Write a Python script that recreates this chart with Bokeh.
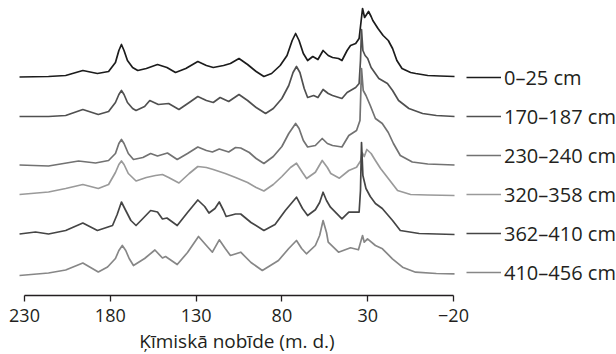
from bokeh.plotting import figure
from bokeh.models import Range1d, FixedTicker, Legend, LegendItem, ColumnDataSource
from bokeh.transform import dodge
from bokeh.embed import file_html
from bokeh.resources import INLINE

# ---- data (chemical shift in ppm, relative intensity) ----
labels = ["0–25 cm", "170–187 cm", "230–240 cm", "320–358 cm", "362–410 cm", "410–456 cm"]

ppm_1 = [232.9, 216, 206, 196, 187.5, 181, 177, 175, 173.5, 172, 170, 167, 164, 159, 152.5, 147, 142, 136,
         129, 124, 120, 114, 110, 105, 100, 95, 90.5, 86, 81, 77, 74, 72, 70, 67.5, 65, 62, 59, 56, 53, 50.5,
         47, 45, 42, 40, 37, 35, 33.8, 33, 31.8, 29.5, 28, 27, 24, 21, 18, 15.5, 13, 10, 5, 2, -5, -12, -20.6]
int_1 = [0, 0.5, 1.5, 6.5, 3.5, 5.5, 14.5, 26.5, 32.5, 26.5, 16.5, 9.5, 6.5, 8.5, 12.5, 9.5, 4.5, 8.5,
         15.5, 11.5, 9.5, 11.5, 13.5, 18.5, 12.5, 5.5, 0.5, 3.5, 11.5, 21.5, 36.5, 43.5, 36.5, 23.5, 16.5, 20.5, 17.5, 26.5, 21.5, 19.5,
         18.5, 16.5, 26.5, 31.5, 33.5, 38.5, 56.5, 68.5, 59.5, 65.5, 60.5, 56.5, 48.5, 41.5, 36.5, 28.5, 16.5, 8.5, 4.5, 3.5, 1.5, 1, 0.5]

ppm_2 = [232.9, 216, 206, 196, 187, 181, 177, 175, 173.5, 172, 170, 167, 165, 160, 157, 152, 146, 140,
         134, 129, 124, 120, 116, 111, 105, 100, 95, 89.5, 85, 80, 76, 73.5, 71.5, 69.5, 67, 65, 61.5, 59, 56, 53,
         50.5, 45, 42, 37, 35, 34.2, 33.6, 32.8, 31.5, 30, 28, 23.5, 18.5, 15.5, 12, 6, -2, -10, -20.6]
int_2 = [0, 0, 1, 7, 2, 5, 14, 22, 26, 22, 14, 8, 6, 10, 16, 12, 13, 7,
         14, 20, 16, 14, 19, 15, 22, 16, 9, 3, 8, 18, 31, 44, 50, 44, 28, 19, 21, 19, 27, 23,
         21, 18, 24, 29, 33, 56, 87, 66, 61, 58, 49, 38, 33, 26, 16, 8, 3, 1, 0]

ppm_3 = [232.9, 216, 198.5, 188.6, 181, 177, 175, 173.5, 172, 169.5, 166.5, 161, 156.5, 152.5, 146.7, 141,
         135, 129, 124, 120.5, 116.5, 111, 107, 104, 99, 95, 90.5, 85, 80, 76, 72, 70, 67.5, 65, 60.5, 56.5,
         53.5, 50.5, 45, 41, 36.5, 34.5, 33.6, 32.6, 31, 28.5, 25.5, 21.5, 18, 15, 11, 4, -5, -20.6]
int_3 = [0, -1, 4, 2, 4.5, 11.5, 21.5, 25.5, 21.5, 11.5, 5.5, 7.5, 11.5, 9, 12, 5.5,
         11.5, 18, 14.5, 13, 16, 13, 17.5, 17, 12.5, 6.5, 1.5, 8.5, 18.5, 31.5, 41.5, 36.5, 24.5, 18, 19.5, 26.5,
         21.5, 19.5, 18, 29.5, 34.5, 44.5, 96.5, 74.5, 69.5, 59.5, 46.5, 41.5, 32.5, 21.5, 9.5, 3, 1, 0]

ppm_4 = [232.9, 216, 206, 196, 187, 181, 177, 175, 173.5, 172, 169.5, 165, 159, 153.7, 149.6, 146, 140,
         134, 129, 124, 120, 113, 107, 100, 95, 90.5, 85, 80, 75, 71.5, 68, 65.6, 60.5, 56.5, 53.5, 51.5,
         46.5, 41, 36.5, 34, 33.3, 32, 30.5, 28, 25.5, 22.5, 18, 12.6, 5, -5, -20.6]
int_4 = [0.5, 3, 6.5, 10.5, 6.5, 10.5, 22.5, 30.5, 34, 30.5, 21.5, 14, 17.5, 19.5, 20.5, 17.5, 12,
         21.5, 28.5, 27.5, 25.5, 21.5, 17.5, 12.5, 7.5, 4, 10.5, 18.5, 27.5, 31.8, 22.5, 16.5, 22.8, 34.5, 27.5, 21.5,
         16.8, 24.5, 27.8, 34.5, 42.5, 38.5, 45.5, 41.5, 34.5, 26.5, 16.5, 4.5, 0.5, 0, -0.5]

ppm_5 = [232.9, 223.6, 216, 206, 196, 187.5, 178.7, 176, 173.5, 171, 168, 165, 161, 156.5, 152.5, 149.6, 147,
         141, 135, 129, 125, 122.5, 119, 116.5, 114, 112.5, 107, 104, 98, 90.5, 84, 78, 71.5, 68, 65, 60.5,
         58, 56, 54, 51.7, 45, 41, 35, 34.2, 33.6, 32.8, 31, 28.5, 25.5, 21.5, 15.5, 11, 0, -20.6]
int_5 = [0, 2, 0, 3.5, 11, 3.5, 8.5, 19.5, 32, 23.5, 13.5, 8.5, 15.5, 23.5, 22, 15, 16,
         8.5, 21.5, 34, 27.5, 21, 25.5, 32, 23.5, 17.5, 20, 20, 11.5, 3.5, 9.5, 23.5, 36.8, 25.5, 18.5, 24.2,
         31.5, 41.8, 33.5, 26.8, 15.2, 21.8, 21.8, 43.5, 91.5, 58.5, 45.5, 37.5, 30.5, 25.5, 13.5, 3.5, 0.5, -0.5]

ppm_6 = [232.9, 216, 206, 196, 187, 181.6, 177, 175, 173, 171, 169, 166.5, 160, 154, 149.6, 147.8, 141,
         135, 128.6, 124, 120.5, 116.5, 113, 110, 104, 98, 91.4, 82, 76, 71.5, 68.5, 65.7, 60.5, 58, 56, 54,
         53, 47, 40, 35.4, 33, 32, 30.1, 25.5, 21.4, 15.6, 9.7, 2.1, -10, -20.6]
int_6 = [-1.5, 1, 4, 11, 2, 7, 15.5, 23.5, 28.5, 23.5, 15.5, 8.5, 15.5, 24, 16, 17.5, 9.5,
         21.5, 37.5, 28.5, 21.8, 34.2, 25.5, 18.5, 21.8, 11.5, 3.5, 13.5, 25.5, 33.5, 25.5, 20.2, 28.5, 38.5, 53.5, 41.5,
         31.8, 21.8, 26.2, 24.2, 38.5, 31.8, 35.2, 28.5, 25.2, 15.2, 6.8, 1.8, 0.5, 0.2]

x_ticks = [230, 180, 130, 80, 30, -20]

# ---- layout / style ----
offsets = [218.5, 179, 130.5, 100.5, 61.5, 21.5]
colors = ["#1c1c1c", "#505050", "#727272", "#9a9a9a", "#454545", "#878787"]
FONT = "Open Sans"
TEXT = "#231f20"

p = figure(frame_width=459, frame_height=295, output_backend="svg", toolbar_location=None,
           x_range=Range1d(239.907, -27.58), y_range=Range1d(0, 295),
           y_axis_location=None, min_border_left=7, min_border_right=150,
           min_border_top=0, min_border_bottom=59)
p.outline_line_color = None
p.xgrid.visible = False
p.ygrid.visible = False
p.background_fill_color = None
p.border_fill_color = None

series = [(ppm_1, int_1), (ppm_2, int_2), (ppm_3, int_3), (ppm_4, int_4), (ppm_5, int_5), (ppm_6, int_6)]
items = []
for (xs, ys), off, col, lab in zip(series, offsets, colors, labels):
    src = ColumnDataSource(dict(ppm=xs, inten=ys))
    r = p.line(x="ppm", y=dodge("inten", off), source=src, line_color=col, line_width=1.7,
               line_join="round")
    items.append(LegendItem(label=lab, renderers=[r]))

ax = p.xaxis[0]
ax.ticker = FixedTicker(ticks=x_ticks)
ax.bounds = (-20, 230)
ax.major_label_overrides = {-20: "−20"}
ax.minor_tick_line_color = None
ax.major_tick_in = 0
ax.major_tick_out = 6
ax.axis_line_width = 1.3
ax.major_tick_line_width = 1.3
ax.axis_line_color = TEXT
ax.major_tick_line_color = TEXT
ax.major_label_text_font = FONT
ax.major_label_text_font_size = "18px"
ax.major_label_text_color = TEXT
ax.major_label_standoff = 7
ax.axis_label = "Ķīmiskā nobīde (m. d.)"
ax.axis_label_text_font = FONT
ax.axis_label_text_font_size = "19px"
ax.axis_label_text_font_style = "normal"
ax.axis_label_text_color = TEXT
ax.axis_label_standoff = 3

legend = Legend(items=items, location=(0, 9), orientation="vertical",
                glyph_width=35, glyph_height=28, label_height=28, spacing=11,
                label_standoff=3, padding=0, margin=0,
                border_line_alpha=0, background_fill_alpha=0,
                label_text_font=FONT, label_text_font_size="20px", label_text_color=TEXT)
p.add_layout(legend, "right")

open("out.html", "w").write(file_html(p, INLINE))
